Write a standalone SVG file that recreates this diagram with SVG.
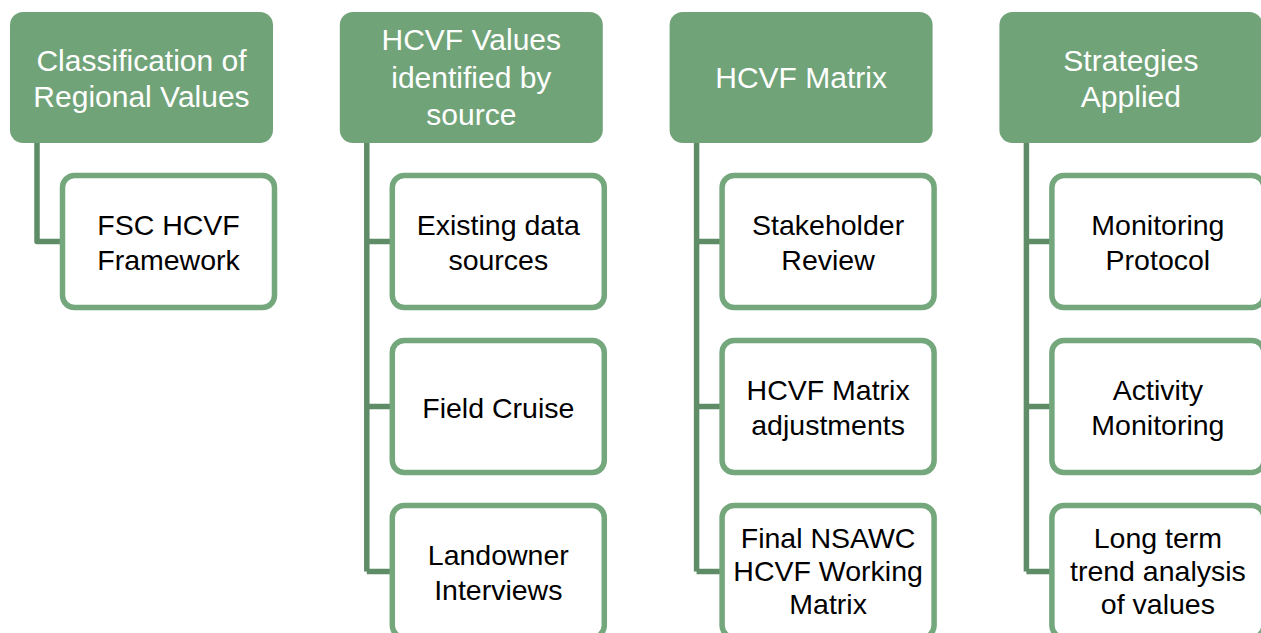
<svg xmlns="http://www.w3.org/2000/svg" width="1261" height="633" viewBox="0 0 1261 633">
<style>
.hdr{fill:#71A379;}
.child{fill:#FFFFFF;stroke:#74A77C;stroke-width:5.5;}
.conn{fill:none;stroke:#5E8C66;stroke-width:5.5;stroke-linejoin:round;}
.ht{font-family:"Liberation Sans",Arial,sans-serif;font-size:30px;fill:#FFFFFF;text-anchor:middle;}
.ct{font-family:"Liberation Sans",Arial,sans-serif;font-size:28.5px;fill:#000000;text-anchor:middle;}
</style>
<rect width="1261" height="633" fill="#FFFFFF"/>
<g id="connectors">
  <path class="conn" d="M37,143 V241.5 H62"/>
  <path class="conn" d="M366.8,143 V571.5 M366.8,241.5 H392 M366.8,406.5 H392 M366.8,571.5 H392"/>
  <path class="conn" d="M696.6,143 V571.5 M696.6,241.5 H722 M696.6,406.5 H722 M696.6,571.5 H722"/>
  <path class="conn" d="M1026.4,143 V571.5 M1026.4,241.5 H1052 M1026.4,406.5 H1052 M1026.4,571.5 H1052"/>
</g>
<g id="h1">
  <rect class="hdr" x="10" y="12" width="263" height="131" rx="13"/>
  <text class="ht" x="141.5" y="70.5">Classification of</text>
  <text class="ht" x="141.5" y="106.5">Regional Values</text>
</g>
<g id="c1a">
  <rect class="child" x="62.5" y="175.5" width="212" height="132" rx="12"/>
  <text class="ct" x="168.5" y="235">FSC HCVF</text>
  <text class="ct" x="168.5" y="270">Framework</text>
</g>
<g id="h2">
  <rect class="hdr" x="339.8" y="12" width="263" height="131" rx="13"/>
  <text class="ht" x="471.3" y="50">HCVF Values</text>
  <text class="ht" x="471.3" y="88">identified by</text>
  <text class="ht" x="471.3" y="125">source</text>
</g>
<g id="c2a">
  <rect class="child" x="392.3" y="175.5" width="212" height="132" rx="12"/>
  <text class="ct" x="498.3" y="235">Existing data</text>
  <text class="ct" x="498.3" y="270">sources</text>
</g>
<g id="c2b">
  <rect class="child" x="392.3" y="340.5" width="212" height="132" rx="12"/>
  <text class="ct" x="498.3" y="418">Field Cruise</text>
</g>
<g id="c2c">
  <rect class="child" x="392.3" y="505.5" width="212" height="132" rx="12"/>
  <text class="ct" x="498.3" y="565">Landowner</text>
  <text class="ct" x="498.3" y="600">Interviews</text>
</g>
<g id="h3">
  <rect class="hdr" x="669.6" y="12" width="263" height="131" rx="13"/>
  <text class="ht" x="801.1" y="88">HCVF Matrix</text>
</g>
<g id="c3a">
  <rect class="child" x="722.1" y="175.5" width="212" height="132" rx="12"/>
  <text class="ct" x="828.1" y="235">Stakeholder</text>
  <text class="ct" x="828.1" y="270">Review</text>
</g>
<g id="c3b">
  <rect class="child" x="722.1" y="340.5" width="212" height="132" rx="12"/>
  <text class="ct" x="828.1" y="400">HCVF Matrix</text>
  <text class="ct" x="828.1" y="435">adjustments</text>
</g>
<g id="c3c">
  <rect class="child" x="722.1" y="505.5" width="212" height="132" rx="12"/>
  <text class="ct" x="828.1" y="547.5">Final NSAWC</text>
  <text class="ct" x="828.1" y="581">HCVF Working</text>
  <text class="ct" x="828.1" y="614">Matrix</text>
</g>
<g id="h4">
  <rect class="hdr" x="999.4" y="12" width="263" height="131" rx="13"/>
  <text class="ht" x="1130.9" y="70.5">Strategies</text>
  <text class="ht" x="1130.9" y="106.5">Applied</text>
</g>
<g id="c4a">
  <rect class="child" x="1051.9" y="175.5" width="212" height="132" rx="12"/>
  <text class="ct" x="1157.9" y="235">Monitoring</text>
  <text class="ct" x="1157.9" y="270">Protocol</text>
</g>
<g id="c4b">
  <rect class="child" x="1051.9" y="340.5" width="212" height="132" rx="12"/>
  <text class="ct" x="1157.9" y="400">Activity</text>
  <text class="ct" x="1157.9" y="435">Monitoring</text>
</g>
<g id="c4c">
  <rect class="child" x="1051.9" y="505.5" width="212" height="132" rx="12"/>
  <text class="ct" x="1157.9" y="547.5">Long term</text>
  <text class="ct" x="1157.9" y="581">trend analysis</text>
  <text class="ct" x="1157.9" y="614">of values</text>
</g>
</svg>
